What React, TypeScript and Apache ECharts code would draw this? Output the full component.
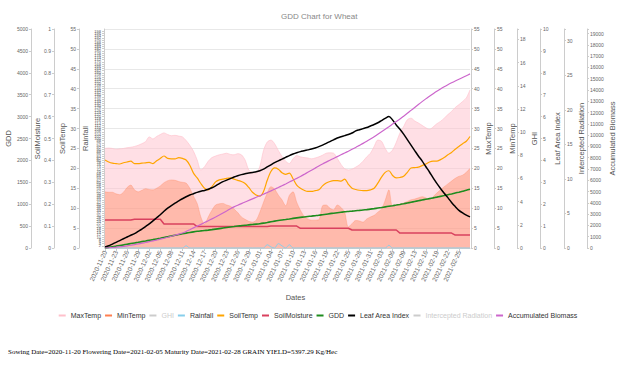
import React, { useEffect, useRef } from 'react';
import * as echarts from 'echarts';

const FONT = "'Liberation Sans', Arial, sans-serif";

// Dates (one day, 2021-02-11, absent from the record)
const dateSegments: [string, number, number][] = [
  ['2020-11', 20, 30],
  ['2020-12', 1, 31],
  ['2021-01', 1, 31],
  ['2021-02', 1, 10],
  ['2021-02', 12, 28],
];
const dates: string[] = [];
dateSegments.forEach(([ym, a, b]) => {
  for (let d = a; d <= b; d++) dates.push(`${ym}-${String(d).padStart(2, '0')}`);
});

const maxTemp = [
  25.0, 25.1, 25.0, 24.8, 24.9, 25.0, 25.2, 25.3, 25.5, 25.8,
  26.2, 26.7, 27.9, 27.4, 28.0, 28.5, 28.9, 28.5, 28.2, 28.3,
  28.1, 27.9, 27.0, 25.8, 24.3, 22.1, 19.6, 20.4, 21.8, 22.7,
  23.1, 23.4, 23.6, 23.8, 23.5, 23.4, 23.7, 23.4, 22.1, 19.6,
  19.0, 18.8, 20.5, 24.5, 26.6, 27.1, 26.2, 24.5, 23.0, 21.8,
  21.2, 22.4, 23.2, 22.9, 22.7, 22.6, 22.4, 22.6, 22.9, 23.3,
  23.8, 23.9, 23.8, 22.5, 21.0, 19.9, 19.6, 19.8, 20.3, 20.9,
  21.8, 22.9, 23.8, 25.5, 27.1, 26.8, 25.0, 23.8, 24.6, 26.5,
  28.9, 30.5, 32.2, 32.6, 31.9, 31.4, 30.8, 30.2, 29.8, 30.4,
  31.2, 31.8, 32.6, 33.5, 34.3, 35.3, 36.0, 36.8, 37.7, 39.7,
];

const minTemp = [
  14.1, 14.0, 14.0, 13.6, 13.4, 14.0, 15.2, 15.8, 14.6, 14.1,
  14.5, 14.9, 14.7, 14.6, 15.0, 15.6, 16.4, 16.9, 17.1, 17.0,
  16.7, 16.5, 16.3, 15.0, 13.0, 11.2, 7.8, 6.0, 7.8, 9.5,
  10.8, 11.1, 11.2, 10.8, 10.5, 9.8, 8.9, 7.8, 7.2, 6.7,
  6.5, 7.0, 9.0, 11.5, 13.8, 15.4, 14.8, 13.3, 12.1, 10.6,
  13.2, 14.1, 11.5, 9.5, 8.0, 7.3, 7.0, 7.0, 7.1, 10.6,
  10.8, 10.0, 9.6, 10.8, 10.2, 9.0, 5.3, 6.1, 6.9, 6.8,
  6.5, 7.3, 7.8, 8.2, 9.0, 9.8, 12.0, 14.6, 10.4, 10.8,
  11.0, 11.3, 11.7, 12.1, 12.3, 12.6, 12.9, 12.6, 12.1, 12.9,
  13.8, 14.6, 15.4, 16.1, 16.8, 17.5, 18.0, 18.3, 19.0, 20.0,
];

const soilTemp = [
  22.1, 21.6, 21.3, 21.2, 21.1, 21.4, 21.6, 21.8, 21.2, 21.2,
  21.3, 21.4, 21.5, 21.2, 21.9, 22.5, 23.1, 22.5, 22.4, 22.4,
  22.7, 22.5, 22.1, 20.8, 18.8, 17.6, 16.2, 15.0, 14.6, 15.4,
  16.6, 17.1, 17.3, 17.5, 17.6, 17.3, 17.0, 16.7, 16.2, 15.2,
  14.0, 13.3, 13.0, 14.2, 17.0, 19.2, 20.1, 19.8, 18.9, 18.5,
  18.8, 17.4, 15.8, 15.0, 14.5, 14.2, 14.2, 14.4, 14.6, 15.6,
  16.3, 16.7, 16.9, 16.9, 16.8, 17.3, 16.0, 15.0, 14.7, 14.5,
  14.4, 14.4, 14.6, 15.0, 16.3, 17.8, 19.0, 19.4, 18.2, 17.6,
  17.7, 18.0, 19.0, 20.1, 20.2, 20.3, 20.7, 21.1, 21.6, 21.8,
  21.8, 22.2, 22.7, 23.4, 24.0, 24.8, 25.5, 26.2, 26.8, 28.0,
];

const soilMoisture = [
  0.128, 0.128, 0.128, 0.128, 0.128, 0.128, 0.128, 0.128, 0.131, 0.131,
  0.131, 0.131, 0.131, 0.131, 0.131, 0.131, 0.110, 0.110, 0.110, 0.110,
  0.110, 0.110, 0.110, 0.110, 0.110, 0.098, 0.098, 0.098, 0.098, 0.098,
  0.098, 0.098, 0.098, 0.098, 0.098, 0.098, 0.098, 0.098, 0.098, 0.098,
  0.098, 0.098, 0.098, 0.098, 0.098, 0.100, 0.100, 0.100, 0.100, 0.100,
  0.100, 0.100, 0.100, 0.090, 0.090, 0.090, 0.090, 0.090, 0.090, 0.090,
  0.090, 0.090, 0.090, 0.090, 0.090, 0.090, 0.090, 0.082, 0.082, 0.082,
  0.082, 0.082, 0.082, 0.082, 0.082, 0.082, 0.082, 0.082, 0.082, 0.082,
  0.068, 0.068, 0.068, 0.068, 0.068, 0.068, 0.068, 0.068, 0.068, 0.068,
  0.068, 0.068, 0.068, 0.068, 0.068, 0.059, 0.059, 0.059, 0.059, 0.059,
];

const gdd = [
  0, 14, 29, 43, 57, 71, 86, 101, 116, 130,
  145, 160, 176, 191, 207, 223, 240, 257, 274, 291,
  307, 324, 340, 355, 369, 381, 390, 398, 408, 419,
  431, 443, 455, 467, 479, 490, 501, 511, 521, 529,
  537, 545, 555, 568, 583, 599, 614, 628, 640, 651,
  663, 676, 688, 699, 709, 719, 728, 738, 748, 760,
  772, 784, 795, 806, 816, 826, 834, 842, 851, 859,
  868, 877, 887, 899, 912, 925, 939, 953, 966, 980,
  995, 1011, 1028, 1045, 1062, 1079, 1096, 1112, 1128, 1144,
  1161, 1179, 1197, 1216, 1235, 1255, 1275, 1296, 1317, 1340,
];

const leafAreaIndex = [
  0.05, 0.1, 0.18, 0.26, 0.34, 0.42, 0.5, 0.58, 0.66, 0.76,
  0.86, 0.98, 1.1, 1.24, 1.38, 1.52, 1.68, 1.82, 1.94, 2.05,
  2.15, 2.25, 2.34, 2.42, 2.48, 2.54, 2.59, 2.63, 2.68, 2.75,
  2.84, 2.94, 3.03, 3.1, 3.17, 3.24, 3.3, 3.35, 3.39, 3.42,
  3.45, 3.48, 3.53, 3.6, 3.7, 3.8, 3.9, 3.98, 4.06, 4.14,
  4.22, 4.29, 4.35, 4.4, 4.44, 4.48, 4.52, 4.57, 4.63, 4.7,
  4.78, 4.86, 4.94, 5.02, 5.08, 5.13, 5.18, 5.25, 5.35, 5.4,
  5.45, 5.5, 5.57, 5.64, 5.72, 5.82, 5.92, 6.0, 5.85, 5.62,
  5.42, 5.2, 4.95, 4.7, 4.45, 4.2, 3.98, 3.72, 3.47, 3.2,
  2.95, 2.72, 2.5, 2.3, 2.08, 1.89, 1.72, 1.6, 1.5, 1.42,
];

const accumulatedBiomass = [
  0, 20, 45, 75, 110, 150, 195, 245, 300, 360,
  425, 490, 560, 630, 705, 785, 865, 950, 1040, 1135,
  1235, 1330, 1465, 1620, 1780, 1940, 2095, 2255, 2415, 2580,
  2750, 2925, 3105, 3285, 3470, 3640, 3790, 3935, 4075, 4215,
  4355, 4490, 4630, 4770, 4915, 5060, 5210, 5360, 5515, 5675,
  5840, 6005, 6170, 6340, 6520, 6705, 6890, 7075, 7260, 7440,
  7610, 7775, 7935, 8095, 8255, 8415, 8575, 8740, 8910, 9090,
  9270, 9460, 9660, 9865, 10080, 10300, 10520, 10745, 10975, 11205,
  11435, 11680, 11930, 12190, 12450, 12710, 12965, 13210, 13440, 13665,
  13885, 14090, 14285, 14470, 14640, 14800, 14950, 15100, 15260, 15425,
];

const rainfall = [
  0, 0, 0, 0, 0, 0, 0, 0, 0, 0,
  0, 0, 0, 0, 0, 0, 0, 0, 0, 0,
  0, 0, 2, 0, 0, 0, 0, 0, 0, 0,
  0, 0, 0, 0, 0, 0, 0, 0, 0, 0,
  0, 0, 0, 0, 3, 1, 0, 4, 2, 0,
  3, 0, 0, 0, 0, 0, 0, 0, 0, 0,
  0, 0, 0, 0, 0, 0, 0, 0, 0, 0,
  0, 0, 0, 0, 0, 0, 0, 2.5, 0, 0,
  0, 0, 0, 0, 0, 0, 0, 0, 0, 0,
  0, 0, 0, 0, 0, 0, 0, 0, 0, 0,
];

const ghi: number[] = [];
const interceptedRadiation: number[] = [];

const footerText =
  'Sowing Date=2020-11-20 Flowering Date=2021-02-05 Maturity Date=2021-02-28 GRAIN YIELD=5397.29 Kg/Hec';

const labelInterval = (idx: number) => idx % 3 === 0 && idx <= 96;

function yAxisDef(
  name: string,
  position: 'left' | 'right',
  offset: number,
  max: number,
  interval: number,
  nameGap: number,
  labelSize = 5,
  split = false
) {
  return {
    type: 'value',
    name,
    position,
    offset,
    min: 0,
    max,
    interval,
    nameLocation: 'middle',
    nameGap,
    nameRotate: 90,
    nameMoveOverlap: false,
    nameTextStyle: { color: '#555', fontSize: 7.5, fontFamily: FONT },
    axisLine: { show: true, lineStyle: { color: '#ccc', width: 1 } },
    axisTick: { show: true, length: 2, lineStyle: { color: '#ccc' } },
    axisLabel: {
      color: '#666',
      fontSize: labelSize,
      fontFamily: FONT,
      margin: 3,
      formatter: (v: number) => {
        const r = v / interval;
        return Math.abs(r - Math.round(r)) < 1e-6 ? String(Math.round(v * 1000) / 1000) : '';
      },
    },
    splitLine: { show: split, lineStyle: { color: '#e8e8e8', width: 1 } },
  };
}

function lineSeries(name: string, data: number[], yAxisIndex: number, color: string, width: number, extra: any = {}) {
  return {
    name,
    type: 'line',
    data,
    yAxisIndex,
    showSymbol: false,
    symbol: 'none',
    smooth: 0.3,
    lineStyle: { color, width },
    itemStyle: { color },
    ...extra,
  };
}

export default function App() {
  const ref = useRef<HTMLDivElement>(null);

  useEffect(() => {
    if (!ref.current) return;
    const chart = echarts.init(ref.current, undefined, { renderer: 'svg' });
    const option: any = {
      animation: false,
      backgroundColor: '#ffffff',
      title: {
        text: 'GDD Chart for Wheat',
        left: 276,
        top: 7,
        textStyle: { fontSize: 8, color: '#888', fontWeight: 'normal', fontFamily: FONT },
      },
      legend: {
        top: 307,
        left: 'center',
        icon: 'rect',
        itemWidth: 7,
        itemHeight: 2,
        itemGap: 4,
        inactiveColor: '#ccc',
        textStyle: { fontSize: 7, color: '#333', fontFamily: FONT },
        selected: { GHI: false, 'Intercepted Radiation': false },
        data: [
          'MaxTemp', 'MinTemp', 'GHI', 'Rainfall', 'SoilTemp', 'SoilMoisture', 'GDD',
          'Leaf Area Index', 'Intercepted Radiation', 'Accumulated Biomass',
        ],
      },
      grid: { left: 105, width: 365, top: 29, height: 219, containLabel: false, outerBoundsMode: 'none' },
      xAxis: {
        type: 'category',
        data: dates,
        boundaryGap: false,
        name: 'Dates',
        nameLocation: 'middle',
        nameGap: 45,
        nameMoveOverlap: false,
        nameTextStyle: { color: '#555', fontSize: 7.5, fontFamily: FONT, padding: [0, 0, 0, 16] },
        axisLine: { lineStyle: { color: '#ccc' } },
        axisTick: { interval: labelInterval, length: 3, lineStyle: { color: '#ccc' } },
        axisLabel: { interval: labelInterval, rotate: 65, fontSize: 6.5, color: '#666', margin: 3, fontFamily: FONT },
        splitLine: { show: false },
      },
      yAxis: [
        yAxisDef('GDD', 'left', 74, 5000, 500, 19),
        yAxisDef('SoilMoisture', 'left', 51, 1, 0.1, 13),
        yAxisDef('SoilTemp', 'left', 26, 55, 5, 13),
        yAxisDef('Rainfall', 'left', 1, 200, 2, 15, 4),
        yAxisDef('MaxTemp', 'right', 1, 55, 5, 13, 5, true),
        yAxisDef('MinTemp', 'right', 24, 55, 5, 14),
        yAxisDef('GHI', 'right', 47, 18.9, 2, 13),
        yAxisDef('Leaf Area Index', 'right', 70, 10, 1, 13),
        yAxisDef('Intercepted Radiation', 'right', 94, 31.7, 5, 13),
        yAxisDef('Accumulated Biomass', 'right', 117, 19400, 1000, 21),
      ],
      series: [
        lineSeries('MaxTemp', maxTemp, 4, '#FFC0CB', 1, {
          lineStyle: { color: '#FFC0CB', width: 1, opacity: 0.6 },
          areaStyle: { color: '#FFC0CB', opacity: 0.5 },
        }),
        lineSeries('MinTemp', minTemp, 5, '#FF7F50', 0.8, {
          lineStyle: { color: '#FF7F50', width: 0.8, opacity: 0.35 },
          areaStyle: { color: '#FF7F50', opacity: 0.38 },
        }),
        lineSeries('GHI', ghi, 6, '#999999', 1),
        lineSeries('Rainfall', rainfall, 3, '#87CEEB', 1),
        lineSeries('SoilTemp', soilTemp, 2, '#FFA500', 1.2),
        lineSeries('SoilMoisture', soilMoisture, 1, '#D9415E', 1.5, { smooth: false }),
        lineSeries('GDD', gdd, 0, '#1E8C1E', 1.6),
        lineSeries('Leaf Area Index', leafAreaIndex, 7, '#000000', 1.5),
        lineSeries('Intercepted Radiation', interceptedRadiation, 8, '#999999', 1),
        lineSeries('Accumulated Biomass', accumulatedBiomass, 9, '#CC66CC', 1.2),
      ],
    };
    chart.setOption(option);
    return () => chart.dispose();
  }, []);

  return (
    <div>
      <div ref={ref} style={{ position: 'absolute', left: 0, top: 0, width: 636, height: 340 }} />
      <div
        style={{
          position: 'absolute',
          left: 8,
          top: 347,
          fontSize: 7,
          lineHeight: '10px',
          fontFamily: "'Liberation Serif', 'Times New Roman', serif",
          color: '#000',
          whiteSpace: 'nowrap',
        }}
      >
        {footerText}
      </div>
    </div>
  );
}
